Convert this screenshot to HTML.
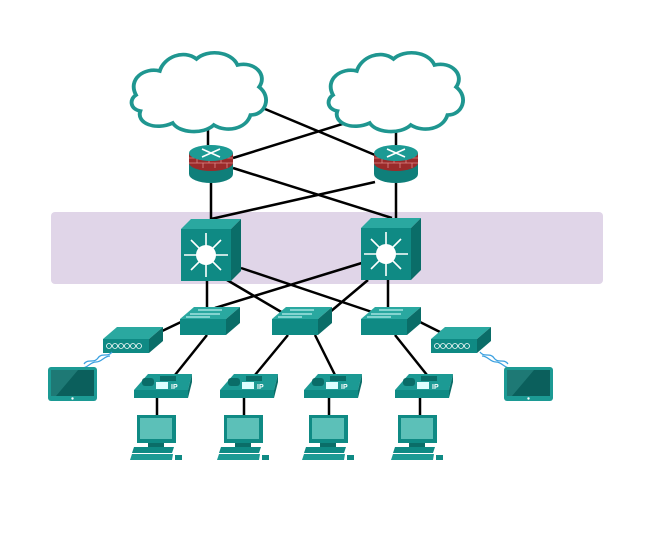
<!DOCTYPE html>
<html><head><meta charset="utf-8"><style>body{margin:0;background:#fff}svg{display:block}</style></head><body>
<svg width="653" height="556" viewBox="0 0 653 556" xmlns="http://www.w3.org/2000/svg" xmlns:xlink="http://www.w3.org/1999/xlink">
<defs>
<g id="cloud"><path d="M0,42 C-8,26 8,14 22,18 C26,4 44,-4 56,6 C66,-4 88,-2 94,12 C110,8 122,22 114,34 C126,44 120,62 106,62 C102,76 84,80 72,72 C62,82 40,80 34,70 C18,78 0,70 4,58 C-6,56 -6,46 0,42 Z" fill="#fff" stroke="#1f9690" stroke-width="3.6"/></g>
<g id="fw"><ellipse cx="22" cy="30" rx="22" ry="9" fill="#0f7f7a"/><rect x="0" y="19" width="44" height="11" fill="#0f7f7a"/><ellipse cx="22" cy="19" rx="22" ry="8" fill="#9a2a2a"/><rect x="0" y="9" width="44" height="10" fill="#9a2a2a"/><path d="M0,14h44M0,19h44M8,14v5M20,14v5M32,14v5M14,19v5M26,19v5M38,19v5" stroke="#d88" stroke-width="0.8"/><ellipse cx="22" cy="9" rx="22" ry="8" fill="#1c9a94"/><path d="M13,5l18,8M31,5l-18,8" stroke="#fff" stroke-width="1.6"/></g>
<g id="mls"><polygon points="0,10 10,0 60,0 50,10" fill="#2aa8a0"/><polygon points="50,10 60,0 60,52 50,62" fill="#0a6d68"/><rect x="0" y="10" width="50" height="52" fill="#0f8a84"/><circle cx="25" cy="36" r="10" fill="#fff"/><g stroke="#fff" stroke-width="1.6"><path d="M25,14v44M3,36h44M10,21l30,30M40,21l-30,30"/></g></g>
<g id="sw"><polygon points="0,12 14,0 60,0 46,12" fill="#2aa8a0"/><polygon points="46,12 60,0 60,16 46,28" fill="#0a6d68"/><rect x="0" y="12" width="46" height="16" fill="#0f8a84"/><path d="M18,3h24M10,7h30M6,10h24" stroke="#dff" stroke-width="1"/></g>
<g id="ap"><polygon points="0,14 14,2 60,2 46,14" fill="#2aa8a0"/><polygon points="46,14 60,2 60,16 46,28" fill="#0a6d68"/><rect x="0" y="14" width="46" height="14" fill="#0f8a84"/><g fill="none" stroke="#fff" stroke-width="0.8"><circle cx="6" cy="21" r="2.5"/><circle cx="12" cy="21" r="2.5"/><circle cx="18" cy="21" r="2.5"/><circle cx="24" cy="21" r="2.5"/><circle cx="30" cy="21" r="2.5"/><circle cx="36" cy="21" r="2.5"/></g></g>
<g id="phone"><polygon points="0,16 14,0 58,0 54,16" fill="#1c9a94"/><rect x="0" y="16" width="54" height="8" fill="#0f8a84"/><polygon points="54,16 58,0 58,8 54,24" fill="#0a6d68"/><rect x="8" y="4" width="12" height="8" rx="3" fill="#0a6d68"/><rect x="26" y="2" width="16" height="5" fill="#0a6d68"/><rect x="22" y="8" width="12" height="7" fill="#dff"/><text x="37" y="15" font-family="Liberation Sans,sans-serif" font-size="7" fill="#fff" font-weight="bold">IP</text></g>
<g id="pc"><rect x="7" y="0" width="39" height="28" fill="#0f8a84"/><rect x="10" y="3" width="32" height="21" fill="#5cc0b8"/><rect x="18" y="28" width="16" height="4" fill="#0a6d68"/><polygon points="4,32 44,32 42,38 2,38" fill="#0f8a84"/><polygon points="2,39 43,39 42,45 0,45" fill="#1c9a94"/><rect x="45" y="40" width="7" height="5" fill="#0f8a84"/></g>
<g id="tab"><rect x="0" y="0" width="49" height="34" rx="3" fill="#1c9a94"/><rect x="3" y="3" width="43" height="26" fill="#0b5f5c"/><polygon points="3,3 30,3 8,29 3,29" fill="#2b8a86" opacity="0.6"/><circle cx="24.5" cy="31.5" r="1.2" fill="#fff"/></g>
</defs>
<rect x="51" y="212" width="552" height="72" rx="4" fill="#e0d5e8"/>
<g stroke="#000" stroke-width="2.5" fill="none">
<path d="M208,128V145M265,109L375,155M352,121L233,158M396,128V145"/>
<path d="M211,183V222M396,183V220M233,168L392,218M375,182L211,219"/>
<path d="M207,281V308M227,280L283,313M241,268L372,312M365,262L215,308M368,280L330,312M388,280V308"/>
<path d="M181,322L160,332M420,322L440,332"/>
<path d="M207,335L175,375M288,335L255,375M315,335L335,375M395,335L427,375"/>
<path d="M157,398V416M244,398V416M329,398V416M420,398V416"/>
</g>
<g transform="translate(136,53) scale(1.08,1)"><use xlink:href="#cloud"/></g>
<g transform="translate(333,53) scale(1.08,1)"><use xlink:href="#cloud"/></g>
<use xlink:href="#fw" x="189" y="144"/>
<use xlink:href="#fw" x="374" y="144"/>
<use xlink:href="#mls" x="181" y="219"/>
<use xlink:href="#mls" x="361" y="218"/>
<use xlink:href="#sw" x="180" y="307"/>
<use xlink:href="#sw" x="272" y="307"/>
<use xlink:href="#sw" x="361" y="307"/>
<use xlink:href="#ap" x="103" y="325"/>
<use xlink:href="#ap" x="431" y="325"/>
<g fill="none" stroke="#3aa0e0" stroke-width="1.2"><path d="M112,352c-4,6-10,0-14,6s-10,0-14,6"/><path d="M110,356c-6,0-8,6-14,6s-8,6-14,6"/><path d="M480,352c4,6 10,0 14,6s10,0 14,6"/><path d="M482,356c6,0 8,6 14,6s8,6 14,6"/></g>
<use xlink:href="#tab" x="48" y="367"/>
<use xlink:href="#tab" x="504" y="367"/>
<use xlink:href="#phone" x="134" y="374"/>
<use xlink:href="#phone" x="220" y="374"/>
<use xlink:href="#phone" x="304" y="374"/>
<use xlink:href="#phone" x="395" y="374"/>
<use xlink:href="#pc" x="130" y="415"/>
<use xlink:href="#pc" x="217" y="415"/>
<use xlink:href="#pc" x="302" y="415"/>
<use xlink:href="#pc" x="391" y="415"/>
</svg>
</body></html>
